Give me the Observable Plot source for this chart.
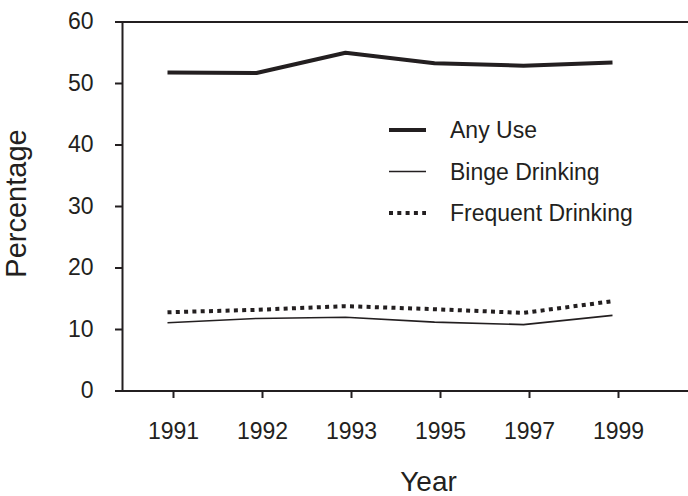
<!DOCTYPE html>
<html>
<head>
<meta charset="utf-8">
<script src="https://cdn.jsdelivr.net/npm/d3@7"></script>
<script src="https://cdn.jsdelivr.net/npm/@observablehq/plot@0.6"></script>
<style>
  html, body { margin: 0; padding: 0; background: #fff; }
  #wrap { position: relative; width: 688px; height: 496px; overflow: hidden; }
  #legend { position: absolute; left: 385px; top: 110px; }
</style>
</head>
<body>
<div id="wrap"></div>
<script>
// ---- data ----
const years = ["1991", "1992", "1993", "1995", "1997", "1999"];
const anyUse = [51.8, 51.7, 55.0, 53.3, 52.9, 53.4];
const binge = [11.1, 11.8, 12.0, 11.2, 10.8, 12.3];
const frequent = [12.8, 13.2, 13.8, 13.3, 12.7, 14.6];
const yTicks = [0, 10, 20, 30, 40, 50, 60];
const seriesNames = ["Any Use", "Binge Drinking", "Frequent Drinking"];
const xTitle = "Year";
const yTitle = "Percentage";

const ink = "#231f20";
const styles = {
  "Any Use": {strokeWidth: 4, dash: null},
  "Binge Drinking": {strokeWidth: 1.6, dash: null},
  "Frequent Drinking": {strokeWidth: 4, dash: "4,4.3"}
};
const seriesValues = [anyUse, binge, frequent];
const table = seriesNames.map((name, i) =>
  years.map((year, j) => ({series: name, year, value: seriesValues[i][j]}))
);

const lineMarks = table.map((rows, i) => {
  const s = styles[seriesNames[i]];
  return Plot.line(rows, {
    x: "year", y: "value", stroke: ink,
    strokeWidth: s.strokeWidth,
    strokeDasharray: s.dash ?? undefined,
    strokeLinecap: "butt",
    strokeLinejoin: "miter",
    dx: -6
  });
});

const chart = Plot.plot({
  width: 688,
  height: 496,
  marginLeft: 122,
  marginRight: 0,
  marginTop: 21.5,
  marginBottom: 105.5,
  style: {fontFamily: "'Liberation Sans', Arial, Helvetica, sans-serif", fontSize: "23px", color: ink, background: "#fff", overflow: "visible"},
  x: {type: "point", domain: years, range: [173, 618], padding: 0},
  y: {domain: [0, 60]},
  marks: [
    Plot.ruleY([0], {stroke: ink, strokeWidth: 2}),
    Plot.ruleY([60], {stroke: ink, strokeWidth: 2}),
    Plot.frame({anchor: "left", stroke: ink, strokeWidth: 2}),
    Plot.axisY({ticks: yTicks, tickSize: 7, tickPadding: 22, strokeWidth: 2, label: null, fontSize: 23}),
    Plot.axisX({tickSize: 7.5, tickPadding: 24, strokeWidth: 2, label: null, fontSize: 23}),
    ...lineMarks,
    Plot.text([yTitle], {frameAnchor: "left", rotate: -90, dx: -106, dy: -3, fontSize: 29, fill: ink, textAnchor: "middle", lineAnchor: "middle"}),
    Plot.text([xTitle], {frameAnchor: "bottom", dx: 23, dy: 91, fontSize: 28, fill: ink, textAnchor: "middle", lineAnchor: "middle"})
  ]
});

const wrap = document.getElementById("wrap");
wrap.appendChild(chart);

// ---- legend ----
const legend = d3.select(wrap).append("svg")
  .attr("id", "legend")
  .attr("width", 260)
  .attr("height", 125)
  .style("font-family", "'Liberation Sans', Arial, Helvetica, sans-serif")
  .style("font-size", "23px");
const rowH = 41.5;
seriesNames.forEach((name, i) => {
  const s = styles[name];
  const g = legend.append("g").attr("transform", `translate(0, ${20 + i * rowH})`);
  g.append("line")
    .attr("x1", 4).attr("x2", 41)
    .attr("y1", 0).attr("y2", 0)
    .attr("stroke", ink)
    .attr("stroke-width", s.strokeWidth)
    .attr("stroke-dasharray", s.dash);
  g.append("text")
    .attr("x", 65).attr("y", 0)
    .attr("dy", "0.35em")
    .attr("fill", ink)
    .text(name);
});
</script>
</body>
</html>
